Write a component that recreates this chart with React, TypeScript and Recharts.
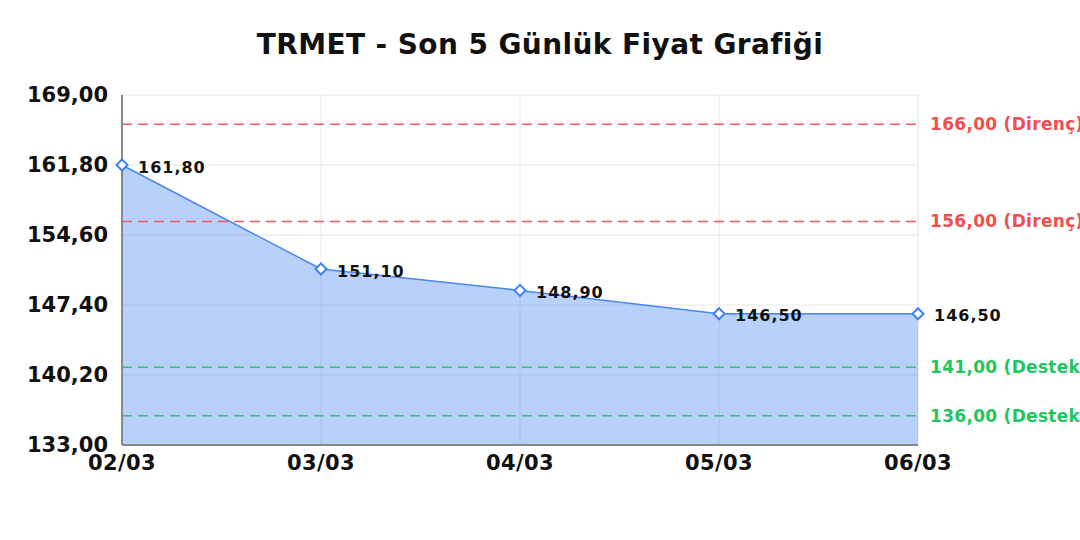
import React from 'react';
import {
  AreaChart,
  Area,
  XAxis,
  YAxis,
  CartesianGrid,
  ReferenceLine,
  LabelList,
} from 'recharts';

const dates = ['02/03', '03/03', '04/03', '05/03', '06/03'];
const prices = [161.8, 151.1, 148.9, 146.5, 146.5];
const yTicks = [133, 140.2, 147.4, 154.6, 161.8, 169];
const resistance = [166, 156];
const support = [141, 136];

const data = dates.map((d, i) => ({ date: d, price: prices[i] }));

const fmt = (v: number) => v.toFixed(2).replace('.', ',');

const FONT = '"DejaVu Sans", sans-serif';

const Diamond = (props: any) => {
  const { cx, cy } = props;
  if (cx == null || cy == null) return null;
  const r = 5.5;
  return (
    <path
      d={`M${cx},${cy - r} L${cx + r},${cy} L${cx},${cy + r} L${cx - r},${cy} Z`}
      fill="#fff"
      stroke="#3b82f6"
      strokeWidth={2}
    />
  );
};

const ValueLabel = (props: any) => {
  const { x, y, value } = props;
  return (
    <text
      x={x + 16}
      y={y + 2}
      dominantBaseline="central"
      fontFamily={FONT}
      fontWeight="bold"
      fontSize={16}
      letterSpacing={1}
      fill="#111"
    >
      {fmt(value)}
    </text>
  );
};

export default function App() {
  return (
    <div style={{ position: 'absolute', left: 0, top: 0, width: 1080, height: 540, background: '#fff' }}>
      <div
        style={{
          position: 'absolute',
          left: 0,
          top: 28,
          width: 1080,
          textAlign: 'center',
          fontFamily: FONT,
          fontWeight: 'bold',
          fontSize: 28,
          letterSpacing: 0.4,
          color: '#111',
        }}
      >
        TRMET - Son 5 Günlük Fiyat Grafiği
      </div>
      <AreaChart
        width={1080}
        height={540}
        data={data}
        margin={{ top: 95, right: 162, bottom: 0, left: 0 }}
      >
        <CartesianGrid stroke="#e6e6e6" strokeWidth={1} />
        <XAxis
          dataKey="date"
          height={95}
          tickSize={0}
          tickMargin={10}
          stroke="#888"
          strokeWidth={2}
          tick={{ fill: '#111', fontFamily: FONT, fontWeight: 'bold', fontSize: 21, letterSpacing: 0.4 }}
          interval={0}
        />
        <YAxis
          width={122}
          domain={[133, 169]}
          ticks={yTicks}
          tickFormatter={fmt}
          tickSize={0}
          tickMargin={14}
          stroke="#888"
          strokeWidth={2}
          tick={{ fill: '#111', fontFamily: FONT, fontWeight: 'bold', fontSize: 21 }}
          interval={0}
        />
        <Area
          type="linear"
          dataKey="price"
          stroke="#4a86f0"
          strokeWidth={1.5}
          fill="#4285f4"
          fillOpacity={0.38}
          dot={<Diamond />}
          activeDot={false}
          isAnimationActive={false}
        >
          <LabelList dataKey="price" content={<ValueLabel />} />
        </Area>
        {resistance.map((v) => (
          <ReferenceLine
            key={'r' + v}
            y={v}
            stroke="#f05a5a"
            strokeWidth={1.5}
            strokeDasharray="10 6"
            label={{
              value: `${fmt(v)} (Direnç)`,
              position: 'right',
              offset: 12,
              fill: '#ef4f4f',
              fontFamily: FONT,
              fontWeight: 'bold',
              fontSize: 17,
              letterSpacing: 0.3,
            }}
          />
        ))}
        {support.map((v) => (
          <ReferenceLine
            key={'s' + v}
            y={v}
            stroke="#2ec866"
            strokeWidth={1.5}
            strokeDasharray="10 6"
            label={{
              value: `${fmt(v)} (Destek)`,
              position: 'right',
              offset: 12,
              fill: '#22c55e',
              fontFamily: FONT,
              fontWeight: 'bold',
              fontSize: 17,
              letterSpacing: 0.3,
            }}
          />
        ))}
      </AreaChart>
    </div>
  );
}
